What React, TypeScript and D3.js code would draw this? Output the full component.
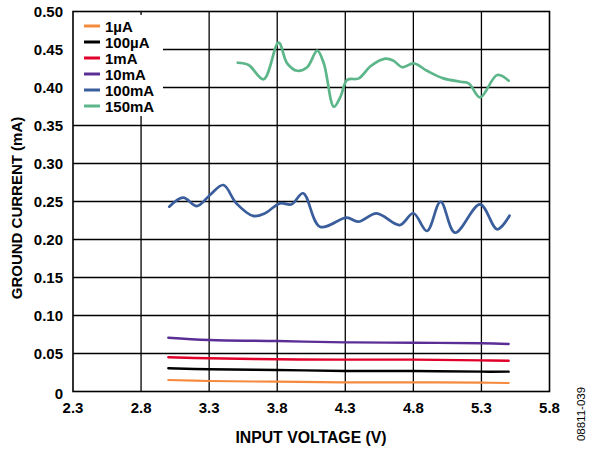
import React from "react";
import * as d3 from "d3";

const seriesNames = ["1µA", "100µA", "1mA", "10mA", "100mA", "150mA"];
const seriesColors = ["#F58A3E", "#000000", "#E0002A", "#5B2E96", "#3A5D9C", "#5DB68A"];
const seriesWidths = [2.2, 2.4, 2.4, 2.4, 2.7, 2.7];

const lowV = [3.0, 3.3, 3.8, 4.3, 4.8, 5.3, 5.5];
const uA1 = [0.0151, 0.0138, 0.0129, 0.0121, 0.0121, 0.0116, 0.0112];
const uA100 = [0.0305, 0.0292, 0.0283, 0.027, 0.027, 0.0261, 0.0261];
const mA1 = [0.045, 0.0437, 0.0424, 0.0419, 0.0419, 0.041, 0.0405];
const mA10 = [0.0708, 0.0678, 0.0664, 0.0647, 0.0642, 0.0634, 0.0625];

const v100 = [3.007, 3.11, 3.21, 3.306, 3.404, 3.5, 3.624, 3.71, 3.82, 3.906, 3.99, 4.114, 4.31, 4.395, 4.53, 4.7, 4.8, 4.9, 5.0, 5.106, 5.29, 5.416, 5.506];
const mA100 = [0.2432, 0.255, 0.244, 0.2586, 0.2717, 0.2476, 0.231, 0.2345, 0.2476, 0.2463, 0.2608, 0.2168, 0.2287, 0.2234, 0.2345, 0.219, 0.2345, 0.2112, 0.2497, 0.209, 0.2463, 0.2134, 0.2313];

const v150 = [3.51, 3.59, 3.7, 3.81, 3.873, 3.947, 4.02, 4.094, 4.142, 4.216, 4.265, 4.314, 4.4, 4.485, 4.595, 4.656, 4.718, 4.803, 4.9, 5.02, 5.146, 5.207, 5.29, 5.416, 5.5];
const mA150 = [0.4326, 0.4296, 0.4108, 0.459, 0.4318, 0.422, 0.4266, 0.4484, 0.4318, 0.3747, 0.388, 0.41, 0.412, 0.428, 0.438, 0.435, 0.4266, 0.4318, 0.422, 0.412, 0.4076, 0.4055, 0.387, 0.4164, 0.409];

const xTicks = [2.3, 2.8, 3.3, 3.8, 4.3, 4.8, 5.3, 5.8];
const xTickLabels = ["2.3", "2.8", "3.3", "3.8", "4.3", "4.8", "5.3", "5.8"];
const yTicks = [0, 0.05, 0.1, 0.15, 0.2, 0.25, 0.3, 0.35, 0.4, 0.45, 0.5];
const yTickLabels = ["0", "0.05", "0.10", "0.15", "0.20", "0.25", "0.30", "0.35", "0.40", "0.45", "0.50"];

const FONT = "Liberation Sans, Arial, Helvetica, sans-serif";

export default function App() {
  const W = 589, H = 450;
  const x0 = 73, x1 = 549.5, y0 = 11.5, y1 = 391.5;
  const x = d3.scaleLinear().domain([2.3, 5.8]).range([x0, x1]);
  const y = d3.scaleLinear().domain([0, 0.5]).range([y1, y0]);

  const series = [
    { v: lowV, i: uA1 },
    { v: lowV, i: uA100 },
    { v: lowV, i: mA1 },
    { v: lowV, i: mA10 },
    { v: v100, i: mA100 },
    { v: v150, i: mA150 },
  ];

  const line = d3
    .line<[number, number]>()
    .x((d) => x(d[0]))
    .y((d) => y(d[1]))
    .curve(d3.curveCatmullRom.alpha(0.5));

  return (
    <svg width={W} height={H} style={{ position: "absolute", left: 0, top: 0, background: "#fff" }}>
      <rect x={0} y={0} width={W} height={H} fill="#fff" />
      {xTicks.slice(1, -1).map((t) => (
        <line key={"gx" + t} x1={x(t)} x2={x(t)} y1={y0} y2={y1} stroke="#000" strokeWidth={1.3} />
      ))}
      {yTicks.slice(1, -1).map((t) => (
        <line key={"gy" + t} x1={x0} x2={x1} y1={y(t)} y2={y(t)} stroke="#000" strokeWidth={1.3} />
      ))}
      <rect x={73} y={15} width={90} height={101} fill="#fff" />
      {series.map((s, k) => (
        <path
          key={"s" + k}
          d={line(s.v.map((v, j) => [v, s.i[j]] as [number, number])) || ""}
          fill="none"
          stroke={seriesColors[k]}
          strokeWidth={seriesWidths[k]}
          strokeLinejoin="round"
          strokeLinecap="round"
        />
      ))}
      <rect x={x0} y={y0} width={x1 - x0} height={y1 - y0} fill="none" stroke="#000" strokeWidth={1.6} />
      {yTicks.map((t, k) => (
        <text key={"yl" + t} x={63} y={y(t) + 5.5 + (t === 0 ? 2 : 0)} textAnchor="end" fontFamily={FONT} fontWeight="bold" fontSize={15}>
          {yTickLabels[k]}
        </text>
      ))}
      {xTicks.map((t, k) => (
        <text key={"xl" + t} x={x(t)} y={413} textAnchor="middle" fontFamily={FONT} fontWeight="bold" fontSize={15}>
          {xTickLabels[k]}
        </text>
      ))}
      {seriesNames.map((n, k) => (
        <g key={"lg" + k}>
          <line x1={84} x2={100} y1={26 + k * 16} y2={26 + k * 16} stroke={seriesColors[k]} strokeWidth={3} />
          <text x={105} y={26 + k * 16 + 5.5} fontFamily={FONT} fontWeight="bold" fontSize={15}>
            {n}
          </text>
        </g>
      ))}
      <text x={311} y={443} textAnchor="middle" fontFamily={FONT} fontWeight="bold" fontSize={15.8}>
        INPUT VOLTAGE (V)
      </text>
      <text
        transform="translate(22,208) rotate(-90)"
        textAnchor="middle"
        fontFamily={FONT}
        fontWeight="bold"
        fontSize={15}
      >
        GROUND CURRENT (mA)
      </text>
      <text
        transform="translate(585,414) rotate(-90)"
        textAnchor="middle"
        fontFamily={FONT}
        fontSize={11.5}
      >
        08811-039
      </text>
    </svg>
  );
}
